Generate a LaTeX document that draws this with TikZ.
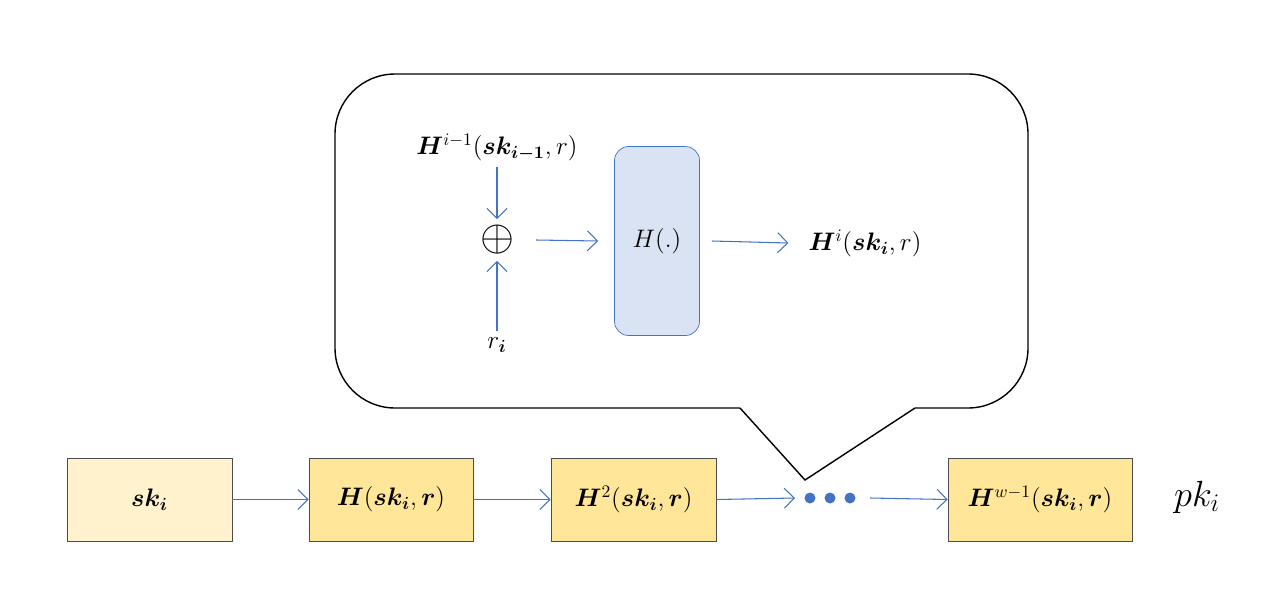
\documentclass[tikz,border=0pt]{standalone}
\usepackage{amsmath}
\usepackage{bm}
\usepackage{xcolor}
\usepackage{tikz}
\usetikzlibrary{arrows.meta, positioning, calc}

\definecolor{chainfill}{HTML}{FFE699}
\definecolor{startfill}{HTML}{FFF2CC}
\definecolor{hashfill}{HTML}{DAE3F3}
\definecolor{linkblue}{HTML}{4472C4}

\begin{document}
\begin{tikzpicture}[
  font=\fontsize{14}{16}\selectfont,
  chain/.style={rectangle, draw=black!70, fill=chainfill, minimum height=1.66cm, align=center},
  link/.style={-{Straight Barb[length=2mm]}, draw=linkblue, line width=0.6pt},
  x=0.02cm,
  y=-0.02cm
]
\useasboundingbox (0,0) rectangle (1280,602);

% Callout bubble
\draw[line width=0.8pt, rounded corners=1.2cm]
  (740,408) -- (335,408) -- (335,74) -- (1028,74) -- (1028,408) -- (915,408);
\draw[line width=0.8pt] (740,408) -- (805,480) -- (915,408);

% Inside the bubble
\node (prev) at (497,147) {$\bm{H}^{i-1}(\bm{sk_{i-1}},r)$};
\node[font=\fontsize{30}{30}\selectfont] (xor) at (497,240) {$\oplus$};
\node (ri) at (497,345) {$r_{\bm{i}}$};
\node[rectangle, rounded corners=8pt, draw=linkblue, fill=hashfill,
  minimum width=1.7cm, minimum height=3.78cm] (hash) at (657,241) {$H(.)$};
\node (out) at (865,243) {$\bm{H}^{i}(\bm{sk_{i}},r)$};

\draw[link] (prev.south) -- (xor.north);
\draw[link] (ri.north) -- (xor.south);
\draw[link] ($(xor.east)+(16,0)$) -- ($(hash.west)+(-16,0)$);
\draw[link] ($(hash.east)+(12,0)$) -- ($(out.west)+(-14,0)$);

% Hash chain
\node[chain, fill=startfill, minimum width=3.3cm] (sk) at (149.5,499.5) {$\bm{sk_i}$};
\node[chain, minimum width=3.28cm] (h1) at (391,499.5) {$\bm{H}(\bm{sk_i},\bm{r})$};
\node[chain, minimum width=3.3cm] (h2) at (633.5,499.5) {$\bm{H}^2(\bm{sk_i},\bm{r})$};
\node[inner sep=0pt] (dots) at (830,498) {};
\foreach \px in {810,830,850}
  \fill[linkblue] (\px,498) circle (5.5);
\node[chain, minimum width=3.68cm] (hw) at (1040,499.5) {$\bm{H}^{w-1}(\bm{sk_i},\bm{r})$};
\node[font=\fontsize{22}{24}\selectfont] (pk) at (1197,497) {$pk_i$};

\draw[link] (sk) -- (h1);
\draw[link] (h1) -- (h2);
\draw[link] (h2.east) -- ($(dots)+(-35,0)$);
\draw[link] ($(dots)+(40,0)$) -- (hw.west);

\end{tikzpicture}
\end{document}
